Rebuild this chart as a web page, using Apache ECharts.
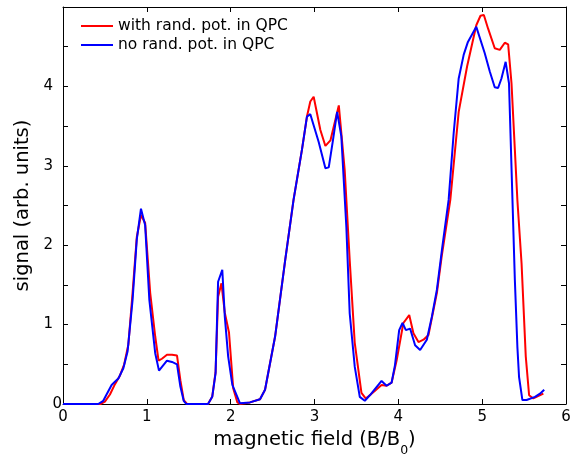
<!DOCTYPE html>
<html><head><meta charset="utf-8">
<script src="https://cdn.jsdelivr.net/npm/echarts@6/dist/echarts.min.js"></script>
<style>html,body{margin:0;padding:0;background:#fff}#c{width:570px;height:455px}</style>
</head><body><div id="c"></div>
<script>
const seriesNames = ['with rand. pot. in QPC', 'no rand. pot. in QPC'];
const seriesColors = ['#ff0000', '#0000ff'];

const redX = [0, 0.45, 0.50, 0.56, 0.62, 0.68, 0.73, 0.78, 0.83, 0.88, 0.93, 0.98, 1.04, 1.10, 1.14, 1.18, 1.24, 1.30, 1.36, 1.40, 1.44, 1.48,
  1.73, 1.78, 1.82, 1.85, 1.89, 1.93, 1.98, 2.03, 2.08, 2.11, 2.23, 2.35, 2.41, 2.53, 2.65, 2.75, 2.85, 2.91, 2.95, 2.99, 3.07, 3.13, 3.19, 3.29, 3.36, 3.42, 3.48, 3.56, 3.61, 3.66,
  3.80, 3.86, 3.92, 3.98, 4.06, 4.13, 4.18, 4.24, 4.30, 4.36, 4.46, 4.52, 4.62, 4.72, 4.82, 4.93, 4.98, 5.02, 5.07, 5.15, 5.21, 5.27, 5.31, 5.35, 5.39, 5.42, 5.47, 5.52, 5.56, 5.61, 5.73];
const redY = [0, 0, 0.03, 0.12, 0.25, 0.36, 0.50, 0.75, 1.40, 2.10, 2.38, 2.28, 1.40, 0.85, 0.545, 0.57, 0.62, 0.62, 0.61, 0.30, 0.05, 0,
  0, 0.09, 0.40, 1.35, 1.52, 1.15, 0.90, 0.20, 0.02, 0, 0.02, 0.06, 0.18, 0.85, 1.81, 2.57, 3.20, 3.62, 3.81, 3.87, 3.45, 3.25, 3.32, 3.76, 2.95, 1.81, 0.77, 0.14, 0.07, 0.11,
  0.24, 0.23, 0.27, 0.55, 1.02, 1.12, 0.89, 0.78, 0.81, 0.87, 1.40, 1.88, 2.57, 3.68, 4.25, 4.77, 4.89, 4.90, 4.73, 4.48, 4.46, 4.55, 4.53, 4.04, 3.20, 2.57, 1.77, 0.60, 0.11, 0.07, 0.13];

const blueX = [0, 0.42, 0.48, 0.58, 0.61, 0.66, 0.72, 0.77, 0.83, 0.88, 0.93, 0.98, 1.03, 1.10, 1.145, 1.24, 1.30, 1.36, 1.40, 1.44, 1.47,
  1.73, 1.78, 1.82, 1.85, 1.90, 1.93, 1.97, 2.02, 2.11, 2.23, 2.35, 2.41, 2.53, 2.65, 2.75, 2.85, 2.91, 2.95, 3.05, 3.13, 3.17, 3.22, 3.27, 3.32, 3.38, 3.42, 3.48, 3.54, 3.60, 3.66,
  3.80, 3.86, 3.92, 3.96, 4.01, 4.05, 4.09, 4.14, 4.20, 4.26, 4.34, 4.40, 4.46, 4.52, 4.60, 4.66, 4.72, 4.78, 4.83, 4.93, 5.03, 5.09, 5.15, 5.19, 5.23, 5.28, 5.32, 5.39, 5.42, 5.44, 5.48, 5.53, 5.63, 5.69, 5.74];
const blueY = [0, 0, 0.04, 0.24, 0.27, 0.32, 0.45, 0.66, 1.31, 2.07, 2.46, 2.25, 1.31, 0.64, 0.42, 0.545, 0.53, 0.50, 0.22, 0.04, 0,
  0, 0.09, 0.39, 1.54, 1.69, 1.10, 0.60, 0.24, 0.01, 0.02, 0.06, 0.18, 0.85, 1.81, 2.57, 3.20, 3.62, 3.65, 3.30, 2.97, 2.98, 3.32, 3.68, 3.37, 2.23, 1.14, 0.47, 0.09, 0.04, 0.11,
  0.29, 0.23, 0.27, 0.49, 0.93, 1.02, 0.93, 0.95, 0.74, 0.68, 0.81, 1.10, 1.44, 1.94, 2.57, 3.41, 4.10, 4.40, 4.56, 4.75, 4.42, 4.19, 3.99, 3.98, 4.10, 4.31, 4.04, 1.56, 0.72, 0.34, 0.05, 0.05, 0.09, 0.13, 0.18];

const xTickLabels = [0, 1, 2, 3, 4, 5, 6];
const yTickLabels = [0, 1, 2, 3, 4];

const FONT = 'DejaVu Sans';
const zip = (xs, ys) => xs.map((x, i) => [x, ys[i]]);

const chart = echarts.init(document.getElementById('c'), null, {renderer: 'canvas'});
const tick = {show: true, inside: true, length: 5, lineStyle: {color: '#000', width: 1}};
const line = {show: true, onZero: false, lineStyle: {color: '#000', width: 1}};

chart.setOption({
  animation: false,
  backgroundColor: '#fff',
  grid: {left: 63, right: 4, top: 7, bottom: 51, containLabel: false, outerBoundsMode: 'none'},
  legend: {
    orient: 'vertical', left: 76, top: 13,
    icon: 'rect', itemWidth: 32, itemHeight: 2, itemGap: 3,
    textStyle: {fontFamily: FONT, fontSize: 15.5, color: '#000', lineHeight: 16},
    data: seriesNames
  },
  xAxis: [{
    type: 'value', min: 0, max: 6, interval: 1, position: 'bottom',
    axisLine: line, axisTick: tick, splitLine: {show: false},
    axisLabel: {margin: 6, fontFamily: FONT, fontSize: 15, color: '#000',
      formatter: v => xTickLabels.includes(v) ? String(v) : ''},
    name: 'magnetic field (B/B{s|0})', nameLocation: 'middle', nameGap: 19,
    nameTextStyle: {fontFamily: FONT, fontSize: 19.5, color: '#000', verticalAlign: 'top',
      rich: {s: {fontFamily: FONT, fontSize: 12.5, color: '#000', padding: [21, 0, 0, 0]}}}
  }, {
    type: 'value', min: 0, max: 6, interval: 1, position: 'top',
    axisLine: line, axisTick: tick, axisLabel: {show: false}, splitLine: {show: false}
  }],
  yAxis: [{
    type: 'value', min: 0, max: 5, interval: 0.5, position: 'left',
    axisLine: line, axisTick: tick, splitLine: {show: false},
    axisLabel: {margin: 1, fontFamily: FONT, fontSize: 15, color: '#000',
      formatter: v => {
        if (!yTickLabels.includes(v)) return '';
        return v === 0 ? '{z|0}' : '{n|' + v + '}';
      },
      rich: {n: {fontFamily: FONT, fontSize: 15, color: '#000', padding: [0, 9, 0, 0]},
             z: {fontFamily: FONT, fontSize: 15, color: '#000'}}},
    name: 'signal (arb. units)', nameLocation: 'middle', nameGap: 30,
    nameTextStyle: {fontFamily: FONT, fontSize: 19.5, color: '#000'}
  }, {
    type: 'value', min: 0, max: 5, interval: 0.5, position: 'right',
    axisLine: line, axisTick: tick, axisLabel: {show: false}, splitLine: {show: false}
  }],
  series: [{
    name: seriesNames[0], type: 'line', data: zip(redX, redY),
    symbol: 'none', showSymbol: false, color: seriesColors[0],
    lineStyle: {color: seriesColors[0], width: 2}
  }, {
    name: seriesNames[1], type: 'line', data: zip(blueX, blueY),
    symbol: 'none', showSymbol: false, color: seriesColors[1],
    lineStyle: {color: seriesColors[1], width: 2}
  }]
});
</script></body></html>
